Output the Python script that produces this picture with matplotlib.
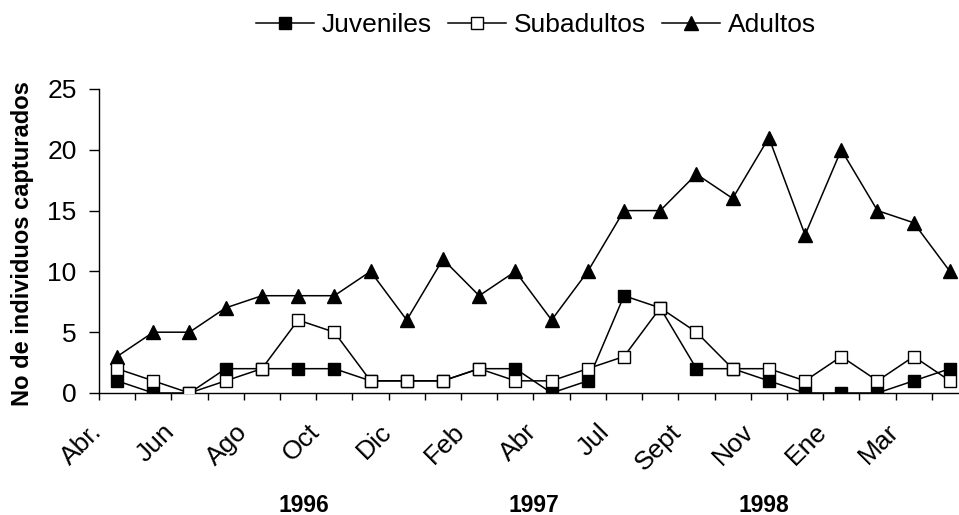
import numpy as np
import matplotlib.pyplot as plt
import matplotlib.transforms as mtransforms

plt.rcParams['font.family'] = ['Liberation Sans', 'DejaVu Sans']

# Data (monthly samples, Abr 1996 - 1998)
juveniles = [1, 0, 0, 2, 2, 2, 2, 1, 1, 1, 2, 2, 0, 1, 8, 7, 2, 2, 1, 0, 0, 0, 1, 2]
subadultos = [2, 1, 0, 1, 2, 6, 5, 1, 1, 1, 2, 1, 1, 2, 3, 7, 5, 2, 2, 1, 3, 1, 3, 1]
adultos = [3, 5, 5, 7, 8, 8, 8, 10, 6, 11, 8, 10, 6, 10, 15, 15, 18, 16, 21, 13, 20, 15, 14, 10]
month_labels = ['Abr.', 'Jun', 'Ago', 'Oct', 'Dic', 'Feb', 'Abr', 'Jul', 'Sept', 'Nov', 'Ene', 'Mar']
years = ['1996', '1997', '1998']
year_pos = [5.17, 11.5, 17.85]

x = np.arange(len(adultos))

fig = plt.figure(figsize=(9.59, 5.15), dpi=100)
ax = fig.add_axes([0.1032, 0.2369, 0.9062, 0.5903])

ax.plot(x, juveniles, color='black', lw=1.1, marker='s', ms=9,
        mfc='black', mec='black', label='Juveniles', zorder=3)
ax.plot(x, subadultos, color='black', lw=1.1, marker='s', ms=9,
        mfc='white', mec='black', label='Subadultos', zorder=4)
ax.plot(x, adultos, color='black', lw=1.1, marker='^', ms=9.5,
        mfc='black', mec='black', label='Adultos', zorder=3)

ax.set_xlim(-0.5, len(adultos) - 0.5)
ax.set_ylim(0, 25)
ax.set_yticks([0, 5, 10, 15, 20, 25])
ax.tick_params(axis='y', direction='out', length=7, width=1, labelsize=19, pad=9)

# labels every second month, ticks at category boundaries
ax.set_xticks(x[::2])
ax.set_xticklabels(month_labels, rotation=45, ha='right', va='top',
                   rotation_mode='anchor', fontsize=19)
ax.tick_params(axis='x', which='major', length=0, pad=19)
ax.set_xticks(np.arange(-0.5, len(adultos)), minor=True)
ax.tick_params(axis='x', which='minor', direction='out', length=5, width=1)
shift = mtransforms.ScaledTranslation(-27 / 100, 0, fig.dpi_scale_trans)
for lab in ax.get_xticklabels():
    lab.set_transform(lab.get_transform() + shift)

for s in ['top', 'right']:
    ax.spines[s].set_visible(False)
for s in ['left', 'bottom']:
    ax.spines[s].set_linewidth(1)

ax.set_ylabel('No de individuos capturados', fontsize=17, fontweight='bold')
ax.yaxis.set_label_coords(-0.075, 0.49)

trans = mtransforms.blended_transform_factory(ax.transData, fig.transFigure)
for yr, xp in zip(years, year_pos):
    ax.text(xp, 1 - 505 / 515, yr, transform=trans, ha='center', va='center',
            fontsize=16.5, fontweight='bold')

fig.legend(loc='center', bbox_to_anchor=(0.559, 0.951), ncol=3, frameon=False,
           fontsize=19, handlelength=2.2, handletextpad=0.3, columnspacing=0.6)

fig.savefig('out.png', dpi=100)
